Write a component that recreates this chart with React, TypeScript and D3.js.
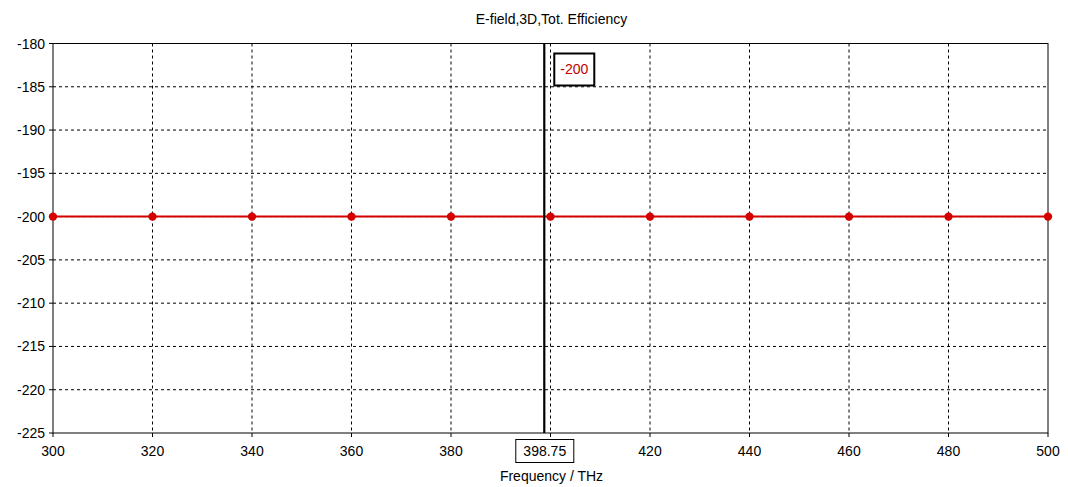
import React from "react";
import * as d3 from "d3";

const freqs = [300, 320, 340, 360, 380, 400, 420, 440, 460, 480, 500];
const values = [-200, -200, -200, -200, -200, -200, -200, -200, -200, -200, -200];
const xTicks = [300, 320, 340, 360, 380, 400, 420, 440, 460, 480, 500];
const yTicks = [-180, -185, -190, -195, -200, -205, -210, -215, -220, -225];
const markerX = 398.75;
const markerValue = -200;
const title = "E-field,3D,Tot. Efficiency";
const xLabel = "Frequency / THz";

export default function App() {
  const W = 1068, H = 487;
  const L = 53, R = 1048, T = 43.5, B = 433;
  const x = d3.scaleLinear().domain([300, 500]).range([L, R]);
  const y = d3.scaleLinear().domain([-225, -180]).range([B, T]);
  const line = d3.line<number>().x((_, i) => x(freqs[i])).y((d) => y(d));
  const font = "Liberation Sans, Arial, sans-serif";
  const mx = x(markerX);
  const boxL = mx - 28.5, boxR = mx + 29.5;
  return (
    <svg width={W} height={H} style={{ position: "absolute", left: 0, top: 0, background: "#fff" }} fontFamily={font}>
      <rect x={0} y={0} width={W} height={H} fill="#fff" />
      <text x={(L + R) / 2 + 1} y={24} textAnchor="middle" fontSize={14} fill="#000">{title}</text>
      {xTicks.slice(1, -1).map((t) => (
        <line key={"gx" + t} x1={x(t)} x2={x(t)} y1={T} y2={B} stroke="#000" strokeWidth={1} strokeDasharray="3,3" />
      ))}
      {yTicks.slice(1, -1).map((t) => (
        <line key={"gy" + t} x1={L} x2={R} y1={y(t)} y2={y(t)} stroke="#000" strokeWidth={1} strokeDasharray="3,3" />
      ))}
      <rect x={L} y={T} width={R - L} height={B - T} fill="none" stroke="#000" strokeWidth={1} />
      {xTicks.map((t) => {
        const tx = x(t);
        const hidden = tx + 12 > boxL && tx - 12 < boxR;
        return (
          <g key={"xt" + t}>
            <line x1={tx} x2={tx} y1={B} y2={B + 4} stroke="#000" />
            {!hidden && (
              <text x={tx} y={B + 23} textAnchor="middle" fontSize={14} fill="#000">{t}</text>
            )}
          </g>
        );
      })}
      {yTicks.map((t) => (
        <g key={"yt" + t}>
          <line x1={L - 4} x2={L} y1={y(t)} y2={y(t)} stroke="#000" />
          <text x={L - 8} y={y(t) + 5} textAnchor="end" fontSize={14} fill="#000">{t}</text>
        </g>
      ))}
      <path d={line(values) || ""} fill="none" stroke="#d40000" strokeWidth={2} />
      {values.map((v, i) => (
        <circle key={"p" + i} cx={x(freqs[i])} cy={y(v)} r={4.2} fill="#d40000" />
      ))}
      <line x1={mx} x2={mx} y1={T} y2={B} stroke="#000" strokeWidth={2.2} />
      <rect x={mx + 10} y={53.5} width={40} height={32} fill="#fff" stroke="#000" strokeWidth={2} />
      <text x={mx + 30} y={74} textAnchor="middle" fontSize={14} fill="#c00000">{markerValue}</text>
      <rect x={boxL} y={439.5} width={boxR - boxL} height={23} fill="#fff" stroke="#000" strokeWidth={1} />
      <text x={mx + 0.5} y={456} textAnchor="middle" fontSize={14} fill="#000">{markerX}</text>
      <text x={(L + R) / 2 + 1} y={481} textAnchor="middle" fontSize={14} fill="#000">{xLabel}</text>
    </svg>
  );
}
